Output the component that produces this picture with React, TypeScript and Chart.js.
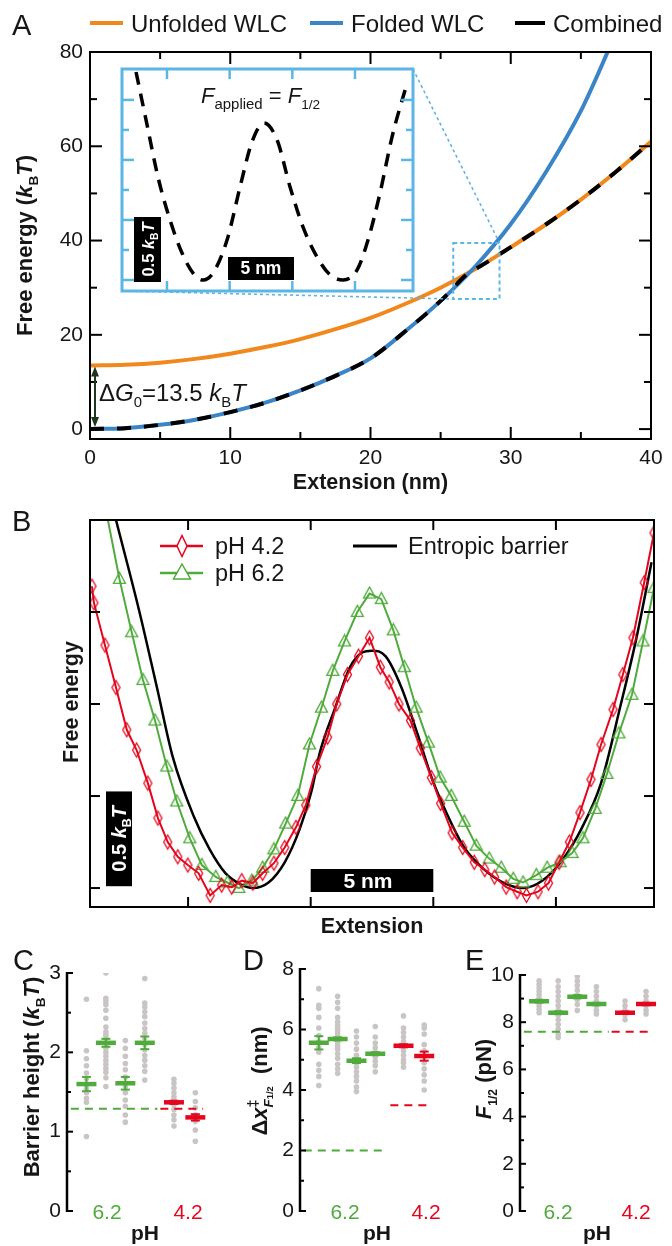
import React, { useEffect, useRef } from 'react';
import { Chart, registerables } from 'chart.js';

Chart.register(...registerables);

const FF = '"Liberation Sans", Arial, Helvetica, sans-serif';
Chart.defaults.font.family = FF;

const ORANGE = '#f0881d';
const BLUE = '#3b84c6';
const CYAN = '#5cb6e4';
const GREEN = '#4fab3b';
const RED = '#e3061c';
const GRAY = '#c9c5c5';
const INK = '#161616';

// ---------------- Panel A ----------------
const extensionA = [0, 2.5, 5, 7.5, 10, 12.5, 15, 17.5, 20, 22.5, 25, 27.5, 30, 32.5, 35, 37.5, 40];
const unfoldedWLC = [13.5, 13.65, 14.1, 14.9, 16.0, 17.4, 19.1, 21.2, 23.6, 26.6, 30.0, 34.0, 38.6, 43.4, 48.7, 54.6, 61.0];
const extensionFolded = [0, 2.5, 5, 7.5, 10, 12.5, 15, 17.5, 20, 22.5, 25, 27.5, 30, 32.5, 35, 37.5];
const foldedWLC = [0, 0.2, 0.9, 2.0, 3.6, 5.6, 8.2, 11.3, 15.0, 20.8, 27.2, 34.6, 43.5, 54.5, 67.5, 84.0];
const extensionCombined = [0, 2.5, 5, 7.5, 10, 12.5, 15, 17.5, 20, 22.5, 25, 27.1, 27.5, 30, 32.5, 35, 37.5, 40];
const combinedEnergy = [0, 0.2, 0.9, 2.0, 3.6, 5.6, 8.2, 11.3, 15.0, 20.8, 27.2, 33.4, 34.0, 38.6, 43.4, 48.7, 54.6, 61.0];
const xTicksA = [0, 10, 20, 30, 40];
const xMinorA = [5, 15, 25, 35];
const yTicksA = [0, 20, 40, 60, 80];
const yMinorA = [10, 30, 50, 70];
const deltaG0 = 13.5;
const zoomBoxX = [25.9, 29.2];
const zoomBoxY = [27.6, 39.5];

// Inset (F_applied = F_1/2)
const insetExtension = [2.53, 3.41, 4.28, 5.24, 6.2, 7.08, 7.87, 8.67, 9.79, 10.83, 11.78, 12.74, 13.78, 14.82, 15.85, 16.97, 18.01, 19.05, 20.16, 21.04, 22.0, 22.96, 24.16];
const insetEnergy = [6.93, 5.17, 3.43, 2.0, 0.9, 0.23, 0, 0.23, 1.33, 3.1, 4.6, 5.23, 4.67, 3.1, 1.77, 0.77, 0.17, 0, 0.33, 1.33, 2.9, 4.77, 6.57];
const insetXTicks = [5, 10, 15, 20];
const insetYMajor = [0, 2, 4, 6];
const insetYMinor = [1, 3, 5];

// ---------------- Panel B ----------------
const extRed = [1.08, 1.16, 1.61, 2.06, 2.5, 2.9, 3.36, 3.77, 4.17, 4.58, 4.99, 5.43, 5.9, 6.37, 6.78, 7.19, 7.64, 8.04, 8.5, 8.94, 9.4, 9.8, 10.24, 10.69, 11.06, 11.5, 11.95, 12.4, 12.84, 13.2, 13.6, 14.07, 14.47, 14.92, 15.3, 15.77, 16.2, 16.67, 17.1, 17.5, 17.97, 18.42, 18.8, 19.27, 19.7, 20.13, 20.55, 20.98, 21.43, 21.84, 22.33, 22.73, 23.14, 23.6, 24.0];
const energyRed = [1.64, 1.55, 1.32, 1.09, 0.86, 0.75, 0.57, 0.38, 0.25, 0.17, 0.125, 0.08, -0.04, 0.016, 0.005, 0.04, 0.027, 0.08, 0.135, 0.22, 0.33, 0.45, 0.66, 0.82, 1.0, 1.16, 1.26, 1.36, 1.2, 1.12, 1.0, 0.91, 0.76, 0.6, 0.46, 0.3, 0.22, 0.14, 0.1, 0.06, 0.005, -0.02, -0.04, -0.02, 0.027, 0.14, 0.25, 0.41, 0.59, 0.78, 0.97, 1.16, 1.36, 1.66, 1.93];
const extGreen = [1.73, 2.2, 2.7, 3.16, 3.65, 4.13, 4.54, 5.07, 5.56, 6.13, 6.6, 7.07, 7.6, 8.04, 8.5, 8.98, 9.47, 9.95, 10.44, 10.9, 11.38, 11.9, 12.4, 12.88, 13.37, 13.82, 14.3, 14.8, 15.28, 15.73, 16.26, 16.75, 17.28, 17.77, 18.26, 18.66, 19.2, 19.64, 20.17, 20.66, 21.1, 21.6, 22.08, 22.57, 23.1, 23.55, 24.0];
const energyGreen = [2.0, 1.68, 1.39, 1.13, 0.91, 0.66, 0.47, 0.27, 0.125, 0.06, 0.03, 0.0, 0.04, 0.11, 0.21, 0.35, 0.5, 0.78, 0.98, 1.18, 1.34, 1.5, 1.6, 1.57, 1.4, 1.2, 0.98, 0.79, 0.6, 0.5, 0.36, 0.23, 0.16, 0.11, 0.05, 0.03, 0.07, 0.11, 0.14, 0.19, 0.27, 0.43, 0.62, 0.84, 1.05, 1.34, 1.63];
const extBarrier = [2.06, 3.0, 3.73, 4.38, 5.23, 5.88, 6.53, 7.15, 7.63, 8.28, 8.94, 9.55, 10.04, 10.36, 11.0, 11.6, 12.1, 12.5, 13.05, 13.7, 14.35, 14.96, 15.6, 16.26, 17.08, 17.85, 18.66, 19.44, 20.25, 21.07, 21.84, 22.65, 23.27, 23.9];
const energyBarrier = [2.0, 1.51, 1.09, 0.71, 0.39, 0.21, 0.08, 0.02, 0.0, 0.03, 0.14, 0.32, 0.53, 0.73, 0.98, 1.2, 1.28, 1.29, 1.26, 1.09, 0.84, 0.59, 0.39, 0.22, 0.1, 0.03, 0.0, 0.04, 0.15, 0.33, 0.57, 1.0, 1.35, 1.77];
const xTicksB = [5, 10, 15, 20];
const yTicksB = [0, 0.5, 1, 1.5, 2];

// ---------------- Panels C, D, E ----------------
const groupX62 = [1, 2, 3, 4];
const groupX42 = [5.5, 6.6];
const refLineX62 = [0.2, 4.65];
const refLineX42 = [4.8, 7.0];

const barrierDots62 = [
  [2.67, 2.02, 1.92, 1.83, 1.74, 1.67, 1.59, 1.54, 1.49, 1.42, 1.37, 0.94],
  [3.0, 2.68, 2.64, 2.6, 2.53, 2.43, 2.32, 2.26, 2.22, 2.18, 2.1, 2.05, 2.0, 1.95, 1.9, 1.85, 1.8, 1.75, 1.68, 1.57],
  [2.15, 2.05, 1.95, 1.86, 1.78, 1.69, 1.57, 1.49, 1.4, 1.32, 1.21, 1.12],
  [2.93, 2.62, 2.57, 2.51, 2.45, 2.37, 2.3, 2.24, 2.18, 2.1, 2.03, 1.96, 1.9, 1.83, 1.76, 1.65],
];
const barrierDots42 = [
  [1.66, 1.61, 1.55, 1.49, 1.44, 1.4, 1.34, 1.28, 1.21, 1.15, 1.07],
  [1.49, 1.38, 1.3, 1.21, 1.13, 1.02, 0.88],
];
const barrierMean62 = [1.6, 2.12, 1.61, 2.12];
const barrierErr62 = [0.09, 0.05, 0.08, 0.08];
const barrierMean42 = [1.37, 1.18];
const barrierErr42 = [0.02, 0.04];
const barrierRef62 = 1.29;
const barrierRef42 = 1.29;
const yTicksC = [0, 1, 2, 3];
const yMinorC = [0.5, 1.5, 2.5];

const dxDots62 = [
  [7.35, 6.8, 6.7, 6.4, 6.05, 5.8, 5.6, 5.4, 5.25, 4.85, 4.65, 4.45, 4.15],
  [7.1, 6.9, 6.7, 6.4, 6.25, 6.15, 6.05, 5.95, 5.85, 5.75, 5.65, 5.55, 5.45, 5.35, 5.2, 5.05, 4.85, 4.7, 4.55],
  [5.95, 5.75, 5.55, 5.35, 5.15, 4.9, 4.75, 4.6, 4.45, 4.3, 4.1, 3.95],
  [6.1, 5.75, 5.55, 5.4, 5.25, 5.1, 4.95, 4.8, 4.6],
];
const dxDots42 = [
  [6.45, 6.05, 5.9, 5.75, 5.6, 5.45, 5.3, 5.15, 5.0, 4.9, 4.75],
  [6.15, 6.05, 5.85, 5.5, 5.3, 5.1, 4.9, 4.7, 4.5, 4.3, 4.0],
];
const dxMean62 = [5.56, 5.69, 4.97, 5.2];
const dxErr62 = [0.22, 0.05, 0.08, 0.05];
const dxMean42 = [5.46, 5.12];
const dxErr42 = [0.05, 0.15];
const dxRef62 = 2.0;
const dxRef42 = 3.5;
const yTicksD = [0, 2, 4, 6, 8];
const yMinorD = [1, 3, 5, 7];

const forceDots62 = [
  [9.75, 9.6, 9.45, 9.3, 9.15, 9.0, 8.85, 8.7, 8.55, 8.4],
  [9.75, 9.5, 9.3, 9.1, 8.9, 8.7, 8.5, 8.3, 8.1, 7.9, 7.7, 7.5, 7.35],
  [10.3, 9.95, 9.75, 9.55, 9.35, 9.15, 8.95, 8.75, 8.5],
  [9.5, 9.3, 9.1, 8.9, 8.7, 8.5, 8.35],
];
const forceDots42 = [
  [8.9, 8.7, 8.5, 8.3, 8.1],
  [9.3, 9.1, 8.9, 8.7, 8.5, 8.35],
];
const forceMean62 = [8.89, 8.4, 9.08, 8.77];
const forceErr62 = [0.06, 0.06, 0.07, 0.05];
const forceMean42 = [8.4, 8.77];
const forceErr42 = [0.05, 0.05];
const forceRef62 = 7.6;
const forceRef42 = 7.6;
const yTicksE = [0, 2, 4, 6, 8, 10];
const yMinorE = [1, 3, 5, 7, 9];

// ---------------- helpers ----------------
type Seg = { t: string; i?: boolean; sub?: boolean; sup?: boolean; rel?: number; stack?: boolean };

function segSize(size: number, s: Seg) {
  return s.sub || s.sup ? size * (s.rel ?? 0.62) : size * (s.rel ?? 1);
}

function drawRich(
  ctx: CanvasRenderingContext2D,
  segs: Seg[],
  x: number,
  y: number,
  size: number,
  o: { bold?: boolean; align?: 'left' | 'center' | 'right'; color?: string; rotate?: boolean } = {}
) {
  ctx.save();
  ctx.fillStyle = o.color ?? INK;
  ctx.textBaseline = 'alphabetic';
  ctx.textAlign = 'left';
  let total = 0;
  let prevStart = 0;
  const parts = segs.map((s) => {
    const sz = segSize(size, s);
    const font = `${s.i ? 'italic ' : ''}${o.bold ? 'bold ' : ''}${sz}px ${FF}`;
    ctx.font = font;
    const w = ctx.measureText(s.t).width;
    let start = total;
    if (s.stack) start = prevStart;
    prevStart = start;
    total = Math.max(total, start + w);
    return { s, font, w, start };
  });
  ctx.translate(x, y);
  if (o.rotate) ctx.rotate(-Math.PI / 2);
  const off = o.align === 'center' ? -total / 2 : o.align === 'right' ? -total : 0;
  for (const p of parts) {
    ctx.font = p.font;
    const dy = p.s.sub ? size * 0.27 : p.s.sup ? -size * 0.42 : 0;
    ctx.fillText(p.s.t, off + p.start, dy);
  }
  ctx.restore();
}

function seg(ctx: CanvasRenderingContext2D, x1: number, y1: number, x2: number, y2: number) {
  ctx.beginPath();
  ctx.moveTo(x1, y1);
  ctx.lineTo(x2, y2);
  ctx.stroke();
}

function boxTicks(chart: any, xMaj: number[], xMin: number[], yMaj: number[], yMin: number[], maj: number, min: number, color: string, lw: number) {
  const { ctx, chartArea: a } = chart;
  const sx = chart.scales.x;
  const sy = chart.scales.y;
  ctx.save();
  ctx.strokeStyle = color;
  ctx.lineWidth = lw;
  const X = (vals: number[], len: number) =>
    vals.forEach((v) => {
      const p = sx.getPixelForValue(v);
      seg(ctx, p, a.bottom, p, a.bottom - len);
      seg(ctx, p, a.top, p, a.top + len);
    });
  const Y = (vals: number[], len: number) =>
    vals.forEach((v) => {
      const p = sy.getPixelForValue(v);
      seg(ctx, a.left, p, a.left + len, p);
      seg(ctx, a.right, p, a.right - len, p);
    });
  X(xMaj, maj);
  X(xMin, min);
  Y(yMaj, maj);
  Y(yMin, min);
  ctx.strokeRect(a.left, a.top, a.right - a.left, a.bottom - a.top);
  ctx.restore();
}

function diamondPath(ctx: CanvasRenderingContext2D, cx: number, cy: number, w: number, h: number) {
  ctx.beginPath();
  ctx.moveTo(cx, cy - h / 2);
  ctx.lineTo(cx + w / 2, cy);
  ctx.lineTo(cx, cy + h / 2);
  ctx.lineTo(cx - w / 2, cy);
  ctx.closePath();
}

function trianglePath(ctx: CanvasRenderingContext2D, cx: number, cy: number, w: number, h: number) {
  ctx.beginPath();
  ctx.moveTo(cx, cy - h * 0.6);
  ctx.lineTo(cx + w / 2, cy + h * 0.4);
  ctx.lineTo(cx - w / 2, cy + h * 0.4);
  ctx.closePath();
}

function markerCanvas(kind: 'diamond' | 'triangle', w: number, h: number, color: string, lw: number) {
  const c = document.createElement('canvas');
  c.width = Math.ceil(w + lw * 2 + 2);
  c.height = Math.ceil(h + lw * 2 + 2);
  const x = c.getContext('2d')!;
  x.strokeStyle = color;
  x.lineWidth = lw;
  if (kind === 'diamond') diamondPath(x, c.width / 2, c.height / 2, w, h);
  else trianglePath(x, c.width / 2, c.height / 2, w, h);
  x.stroke();
  return c;
}

const pts = (xs: number[], ys: number[]) => xs.map((x, i) => ({ x, y: ys[i] }));
const fixedTicks = (vals: number[]) => (s: any) => {
  s.ticks = vals.map((v) => ({ value: v }));
};

// ---------------- Panel A ----------------
const INSET = { l: 122, t: 69, r: 413, b: 291 };

function buildA(canvas: HTMLCanvasElement) {
  const plugin = {
    id: 'panelA',
    afterDraw(chart: any) {
      const { ctx, chartArea: a } = chart;
      const sx = chart.scales.x;
      const sy = chart.scales.y;
      boxTicks(chart, xTicksA, xMinorA, yTicksA, yMinorA, 12, 7, '#000', 2);
      ctx.save();
      // panel letter
      ctx.fillStyle = INK;
      ctx.font = `29px ${FF}`;
      ctx.textBaseline = 'alphabetic';
      ctx.fillText('A', 12, 35);
      // legend
      const items = [
        { c: ORANGE, x1: 90, x2: 123, tx: 131, t: 'Unfolded WLC' },
        { c: BLUE, x1: 310, x2: 343, tx: 351, t: 'Folded WLC' },
        { c: '#000', x1: 515, x2: 545, tx: 553, t: 'Combined' },
      ];
      items.forEach((it) => {
        ctx.strokeStyle = it.c;
        ctx.lineWidth = 4;
        seg(ctx, it.x1, 23, it.x2, 23);
        ctx.fillStyle = INK;
        ctx.font = `24px ${FF}`;
        ctx.fillText(it.t, it.tx, 32);
      });
      // axis titles
      drawRich(ctx, [{ t: 'Free energy (' }, { t: 'k', i: true }, { t: 'B', sub: true }, { t: 'T', i: true }, { t: ')' }], 32, (a.top + a.bottom) / 2, 22, { bold: true, align: 'center', rotate: true });
      drawRich(ctx, [{ t: 'Extension (nm)' }], (a.left + a.right) / 2, 489, 21.5, { bold: true, align: 'center' });
      // delta G0 arrow
      const ax = 95;
      const yTop = sy.getPixelForValue(deltaG0) + 1;
      const yBot = sy.getPixelForValue(0) - 2;
      ctx.strokeStyle = '#1d361d';
      ctx.fillStyle = '#1d361d';
      ctx.lineWidth = 2;
      seg(ctx, ax, yTop + 6, ax, yBot - 6);
      ctx.beginPath();
      ctx.moveTo(ax, yTop);
      ctx.lineTo(ax - 4, yTop + 10);
      ctx.lineTo(ax + 4, yTop + 10);
      ctx.closePath();
      ctx.fill();
      ctx.beginPath();
      ctx.moveTo(ax, yBot);
      ctx.lineTo(ax - 4, yBot - 10);
      ctx.lineTo(ax + 4, yBot - 10);
      ctx.closePath();
      ctx.fill();
      drawRich(ctx, [{ t: 'Δ' }, { t: 'G', i: true }, { t: '0', sub: true }, { t: '=13.5 ' }, { t: 'k', i: true }, { t: 'B', sub: true }, { t: 'T', i: true }], 99, 401, 24, { align: 'left' });
      // zoom box
      const bx1 = sx.getPixelForValue(zoomBoxX[0]);
      const bx2 = sx.getPixelForValue(zoomBoxX[1]);
      const by1 = sy.getPixelForValue(zoomBoxY[1]);
      const by2 = sy.getPixelForValue(zoomBoxY[0]);
      ctx.strokeStyle = CYAN;
      ctx.lineWidth = 2;
      ctx.setLineDash([4, 3]);
      ctx.strokeRect(bx1, by1, bx2 - bx1, by2 - by1);
      ctx.lineWidth = 1.6;
      ctx.setLineDash([3, 3]);
      seg(ctx, INSET.r, INSET.t, bx2, by1);
      seg(ctx, INSET.l, INSET.b, bx1, by2);
      ctx.setLineDash([]);
      ctx.restore();
    },
  };
  return new Chart(canvas, {
    type: 'line',
    data: {
      datasets: [
        { label: 'Combined', data: pts(extensionCombined, combinedEnergy), borderColor: '#000', borderWidth: 4, borderDash: [14, 13], pointRadius: 0, cubicInterpolationMode: 'monotone', order: 0 },
        { label: 'Folded WLC', data: pts(extensionFolded, foldedWLC), borderColor: BLUE, borderWidth: 4, pointRadius: 0, cubicInterpolationMode: 'monotone', order: 1 },
        { label: 'Unfolded WLC', data: pts(extensionA, unfoldedWLC), borderColor: ORANGE, borderWidth: 4, pointRadius: 0, cubicInterpolationMode: 'monotone', order: 2 },
      ],
    },
    options: {
      animation: false,
      responsive: false,
      events: [],
      layout: { padding: { top: 52, right: 21, left: 0, bottom: 0 } },
      plugins: { legend: { display: false }, tooltip: { enabled: false } },
      scales: {
        x: {
          type: 'linear', min: 0, max: 40,
          afterBuildTicks: fixedTicks(xTicksA),
          afterFit: (s: any) => { s.height = 61; },
          ticks: { font: { size: 21 }, color: INK, padding: 7, maxRotation: 0, autoSkip: false },
          grid: { display: false, drawTicks: false },
          border: { display: false },
        },
        y: {
          type: 'linear', min: -2.1, max: 80,
          afterBuildTicks: fixedTicks(yTicksA),
          afterFit: (s: any) => { s.width = 90; },
          ticks: { font: { size: 21 }, color: INK, padding: 7 },
          grid: { display: false, drawTicks: false },
          border: { display: false },
        },
      },
    },
    plugins: [plugin],
  } as any);
}

function buildInset(canvas: HTMLCanvasElement) {
  const plugin = {
    id: 'inset',
    afterDraw(chart: any) {
      const { ctx, chartArea: a } = chart;
      const sx = chart.scales.x;
      const sy = chart.scales.y;
      ctx.save();
      ctx.strokeStyle = CYAN;
      ctx.lineWidth = 2.5;
      insetXTicks.forEach((v) => {
        const p = sx.getPixelForValue(v);
        seg(ctx, p, a.top, p, a.top + 10);
        seg(ctx, p, a.bottom, p, a.bottom - 10);
      });
      const yt = (vals: number[], len: number) =>
        vals.forEach((v) => {
          const p = sy.getPixelForValue(v);
          seg(ctx, a.left, p, a.left + len, p);
          seg(ctx, a.right, p, a.right - len, p);
        });
      yt(insetYMajor, 12);
      yt(insetYMinor, 7);
      ctx.lineWidth = 3;
      ctx.strokeRect(a.left, a.top, a.right - a.left, a.bottom - a.top);
      // title
      drawRich(ctx, [{ t: 'F', i: true }, { t: 'applied', sub: true, rel: 0.68 }, { t: ' = ' }, { t: 'F', i: true }, { t: '1/2', sub: true, rel: 0.62 }], 83, 38, 22, {});
      // scale bars
      ctx.fillStyle = '#000';
      ctx.fillRect(16, 152, 27, 65);
      drawRich(ctx, [{ t: '0.5 ' }, { t: 'k', i: true }, { t: 'B', sub: true }, { t: 'T', i: true }], 36, 184.5, 16.5, { bold: true, align: 'center', rotate: true, color: '#fff' });
      ctx.fillStyle = '#000';
      ctx.fillRect(110, 192, 66, 23);
      drawRich(ctx, [{ t: '5 nm' }], 143, 209, 17.5, { bold: true, align: 'center', color: '#fff' });
      ctx.restore();
    },
  };
  return new Chart(canvas, {
    type: 'line',
    data: {
      datasets: [
        { data: pts(insetExtension, insetEnergy), borderColor: '#000', borderWidth: 3.5, borderDash: [13, 9], pointRadius: 0, cubicInterpolationMode: 'monotone' },
      ],
    },
    options: {
      animation: false,
      responsive: false,
      events: [],
      layout: { padding: 4 },
      plugins: { legend: { display: false }, tooltip: { enabled: false } },
      scales: {
        x: { type: 'linear', min: 1.41, max: 24.63, display: false },
        y: { type: 'linear', min: -0.367, max: 7.03, display: false },
      },
    },
    plugins: [plugin],
  } as any);
}

// ---------------- Panel B ----------------
function buildB(canvas: HTMLCanvasElement) {
  const diamond = markerCanvas('diamond', 8, 14, RED, 1.3);
  const triangle = markerCanvas('triangle', 12, 11, GREEN, 1.3);
  const plugin = {
    id: 'panelB',
    afterDraw(chart: any) {
      const { ctx, chartArea: a } = chart;
      const sx = chart.scales.x;
      const sy = chart.scales.y;
      boxTicks(chart, xTicksB, [], yTicksB, [], 10, 6, '#000', 2);
      ctx.save();
      ctx.fillStyle = INK;
      ctx.font = `29px ${FF}`;
      ctx.fillText('B', 12, 31);
      // legend
      ctx.lineWidth = 2.5;
      ctx.strokeStyle = RED;
      seg(ctx, 160, 46, 203, 46);
      ctx.fillStyle = '#fff';
      diamondPath(ctx, 182, 46, 10, 21);
      ctx.fill();
      ctx.lineWidth = 1.5;
      ctx.stroke();
      ctx.lineWidth = 2.5;
      ctx.strokeStyle = GREEN;
      seg(ctx, 160, 73, 203, 73);
      trianglePath(ctx, 182, 73, 17, 15);
      ctx.fill();
      ctx.lineWidth = 1.5;
      ctx.stroke();
      ctx.lineWidth = 3;
      ctx.strokeStyle = '#000';
      seg(ctx, 353, 46, 397, 46);
      ctx.fillStyle = INK;
      ctx.font = `23.5px ${FF}`;
      ctx.fillText('pH 4.2', 215, 54);
      ctx.fillText('pH 6.2', 215, 81);
      ctx.fillText('Entropic barrier', 408, 54);
      // titles
      drawRich(ctx, [{ t: 'Free energy' }], 78, 202, 21.5, { bold: true, align: 'center', rotate: true });
      drawRich(ctx, [{ t: 'Extension' }], (a.left + a.right) / 2, 433, 21.5, { bold: true, align: 'center' });
      // scale bars
      const y0 = sy.getPixelForValue(0.01);
      const y05 = sy.getPixelForValue(0.525);
      ctx.fillStyle = '#000';
      ctx.fillRect(106, y05, 26, y0 - y05);
      drawRich(ctx, [{ t: '0.5 ' }, { t: 'k', i: true }, { t: 'B', sub: true }, { t: 'T', i: true }], 126, (y0 + y05) / 2, 20, { bold: true, align: 'center', rotate: true, color: '#fff' });
      const x10 = sx.getPixelForValue(10);
      const x15 = sx.getPixelForValue(15);
      ctx.fillStyle = '#000';
      ctx.fillRect(x10, 369, x15 - x10, 23);
      drawRich(ctx, [{ t: '5 nm' }], (x10 + x15) / 2 - 4, 388, 21, { bold: true, align: 'center', color: '#fff' });
      ctx.restore();
    },
  };
  return new Chart(canvas, {
    type: 'line',
    data: {
      datasets: [
        { label: 'pH 4.2', data: pts(extRed, energyRed), borderColor: RED, borderWidth: 2, pointStyle: diamond, pointRadius: 5, tension: 0, order: 0 },
        { label: 'pH 6.2', data: pts(extGreen, energyGreen), borderColor: GREEN, borderWidth: 2, pointStyle: triangle, pointRadius: (c: any) => (c.raw && c.raw.y >= 1.99 ? 0 : 6), tension: 0, order: 1 },
        { label: 'Entropic barrier', data: pts(extBarrier, energyBarrier), borderColor: '#000', borderWidth: 2.5, pointRadius: 0, cubicInterpolationMode: 'monotone', order: 2 },
      ],
    },
    options: {
      animation: false,
      responsive: false,
      events: [],
      layout: { padding: { left: 90, right: 18, top: 20, bottom: 33 } },
      plugins: { legend: { display: false }, tooltip: { enabled: false } },
      scales: {
        x: { type: 'linear', min: 1, max: 24, display: false },
        y: { type: 'linear', min: -0.103, max: 2.0, display: false },
      },
    },
    plugins: [plugin],
  } as any);
}

// ---------------- Panels C, D, E ----------------
type DotPanel = {
  letter: string; letterX: number;
  left: number; top: number; right: number;
  yMax: number; yMaj: number[]; yMin: number[];
  dots62: number[][]; dots42: number[][];
  mean62: number[]; err62: number[]; mean42: number[]; err42: number[];
  ref62: number; ref42: number;
  title: Seg[]; titleX: number; titleY: number;
  lab62: number; lab42: number; labPH: number;
};

function buildDots(canvas: HTMLCanvasElement, p: DotPanel) {
  const dots: { x: number; y: number }[] = [];
  p.dots62.forEach((vals, g) => vals.forEach((v) => dots.push({ x: groupX62[g], y: v })));
  p.dots42.forEach((vals, g) => vals.forEach((v) => dots.push({ x: groupX42[g], y: v })));
  const plugin = {
    id: 'dots' + p.letter,
    afterDatasetsDraw(chart: any) {
      const { ctx } = chart;
      const sx = chart.scales.x;
      const sy = chart.scales.y;
      ctx.save();
      ctx.lineWidth = 2;
      const eb = (xs: number[], m: number[], e: number[], c: string) =>
        xs.forEach((x, i) => {
          const px = sx.getPixelForValue(x);
          const y1 = sy.getPixelForValue(m[i] + e[i]);
          const y2 = sy.getPixelForValue(m[i] - e[i]);
          ctx.strokeStyle = c;
          seg(ctx, px, y1, px, y2);
          seg(ctx, px - 4.5, y1, px + 4.5, y1);
          seg(ctx, px - 4.5, y2, px + 4.5, y2);
        });
      eb(groupX62, p.mean62, p.err62, GREEN);
      eb(groupX42, p.mean42, p.err42, RED);
      ctx.restore();
    },
    afterDraw(chart: any) {
      const { ctx, chartArea: a } = chart;
      const sy = chart.scales.y;
      ctx.save();
      ctx.strokeStyle = '#000';
      ctx.lineWidth = 2.5;
      seg(ctx, a.left, a.bottom + 1, a.left, a.top - 1);
      ctx.lineWidth = 2;
      p.yMaj.forEach((v) => { const y = sy.getPixelForValue(v); seg(ctx, a.left, y, a.left + 6, y); });
      p.yMin.forEach((v) => { const y = sy.getPixelForValue(v); seg(ctx, a.left, y, a.left + 4, y); });
      ctx.fillStyle = INK;
      ctx.font = `29px ${FF}`;
      ctx.fillText(p.letter, p.letterX, 30);
      drawRich(ctx, p.title, p.titleX, p.titleY, 22, { bold: true, align: 'center', rotate: true });
      ctx.font = `21px ${FF}`;
      ctx.textAlign = 'center';
      ctx.fillStyle = GREEN;
      ctx.fillText('6.2', p.lab62, 279);
      ctx.fillStyle = RED;
      ctx.fillText('4.2', p.lab42, 279);
      ctx.fillStyle = INK;
      ctx.font = `bold 21px ${FF}`;
      ctx.fillText('pH', p.labPH, 300);
      ctx.restore();
    },
  };
  return new Chart(canvas, {
    type: 'line',
    data: {
      datasets: [
        { data: dots, showLine: false, pointRadius: 2.8, pointBackgroundColor: GRAY, pointBorderWidth: 0, order: 5 },
        { data: refLineX62.map((x) => ({ x, y: p.ref62 })), borderColor: GREEN, borderWidth: 2, borderDash: [8, 6], pointRadius: 0, order: 4 },
        { data: refLineX42.map((x) => ({ x, y: p.ref42 })), borderColor: RED, borderWidth: 2, borderDash: [8, 6], pointRadius: 0, order: 3 },
        { data: pts(groupX62, p.mean62), showLine: false, pointStyle: 'line', pointRadius: 10, pointBorderWidth: 4.5, pointBorderColor: GREEN, order: 1 },
        { data: pts(groupX42, p.mean42), showLine: false, pointStyle: 'line', pointRadius: 10, pointBorderWidth: 4.5, pointBorderColor: RED, order: 0 },
      ],
    },
    options: {
      animation: false,
      responsive: false,
      events: [],
      layout: { padding: { left: 0, right: p.right, top: p.top, bottom: 35 } },
      plugins: { legend: { display: false }, tooltip: { enabled: false } },
      scales: {
        x: { type: 'linear', min: 0, max: 7.2, display: false },
        y: {
          type: 'linear', min: 0, max: p.yMax,
          afterBuildTicks: fixedTicks(p.yMaj),
          afterFit: (s: any) => { s.width = p.left; },
          ticks: { font: { size: 21 }, color: INK, padding: 6 },
          grid: { display: false, drawTicks: false },
          border: { display: false },
        },
      },
    },
    plugins: [plugin],
  } as any);
}

export default function App() {
  const refA = useRef<HTMLCanvasElement>(null);
  const refI = useRef<HTMLCanvasElement>(null);
  const refB = useRef<HTMLCanvasElement>(null);
  const refC = useRef<HTMLCanvasElement>(null);
  const refD = useRef<HTMLCanvasElement>(null);
  const refE = useRef<HTMLCanvasElement>(null);

  useEffect(() => {
    const charts: Chart[] = [];
    charts.push(buildA(refA.current!));
    charts.push(buildInset(refI.current!));
    charts.push(buildB(refB.current!));
    charts.push(
      buildDots(refC.current!, {
        letter: 'C', letterX: 13, left: 67, top: 33, right: 18,
        yMax: 3, yMaj: yTicksC, yMin: yMinorC,
        dots62: barrierDots62, dots42: barrierDots42,
        mean62: barrierMean62, err62: barrierErr62, mean42: barrierMean42, err42: barrierErr42,
        ref62: barrierRef62, ref42: barrierRef42,
        title: [{ t: 'Barrier height (' }, { t: 'k', i: true }, { t: 'B', sub: true }, { t: 'T', i: true }, { t: ')' }],
        titleX: 39, titleY: 137,
        lab62: 107, lab42: 188, labPH: 145,
      })
    );
    charts.push(
      buildDots(refD.current!, {
        letter: 'D', letterX: 18, left: 75, top: 29, right: 10,
        yMax: 8, yMaj: yTicksD, yMin: yMinorD,
        dots62: dxDots62, dots42: dxDots42,
        mean62: dxMean62, err62: dxErr62, mean42: dxMean42, err42: dxErr42,
        ref62: dxRef62, ref42: dxRef42,
        title: [{ t: 'Δ' }, { t: 'x', i: true }, { t: '‡', sup: true, rel: 0.65 }, { t: 'F', i: true, sub: true, rel: 0.62, stack: true }, { t: '1/2', sub: true, rel: 0.42 }, { t: '  (nm)' }],
        titleX: 42, titleY: 141,
        lab62: 120, lab42: 201, labPH: 152,
      })
    );
    charts.push(
      buildDots(refE.current!, {
        letter: 'E', letterX: 15, left: 70, top: 35, right: 12,
        yMax: 10, yMaj: yTicksE, yMin: yMinorE,
        dots62: forceDots62, dots42: forceDots42,
        mean62: forceMean62, err62: forceErr62, mean42: forceMean42, err42: forceErr42,
        ref62: forceRef62, ref42: forceRef42,
        title: [{ t: 'F', i: true }, { t: '1/2', sub: true, rel: 0.55 }, { t: ' (pN)' }],
        titleX: 41, titleY: 139,
        lab62: 108, lab42: 186, labPH: 147,
      })
    );
    return () => charts.forEach((c) => c.destroy());
  }, []);

  const abs = (l: number, t: number): React.CSSProperties => ({ position: 'absolute', left: l, top: t });
  return (
    <div style={{ position: 'absolute', left: 0, top: 0, width: 672, height: 1246, background: '#fff', overflow: 'hidden' }}>
      <canvas ref={refA} width={672} height={500} style={abs(0, 0)} />
      <canvas ref={refI} width={299} height={230} style={abs(118, 65)} />
      <canvas ref={refB} width={672} height={440} style={abs(0, 500)} />
      <canvas ref={refC} width={225} height={306} style={abs(0, 940)} />
      <canvas ref={refD} width={225} height={306} style={abs(225, 940)} />
      <canvas ref={refE} width={222} height={306} style={abs(450, 940)} />
    </div>
  );
}
